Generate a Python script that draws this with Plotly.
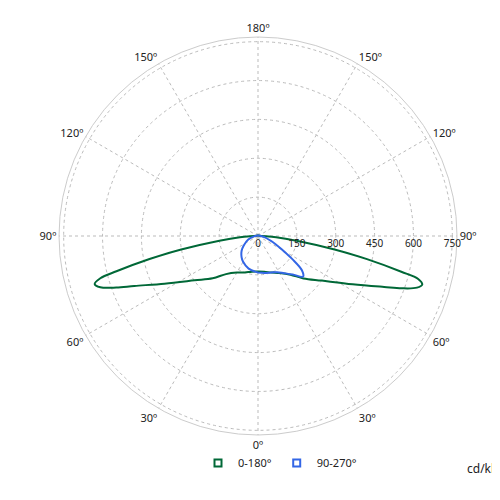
import plotly.graph_objects as go

# photometric planes, gamma in degrees, intensity in cd/klm
gamma_c0 = [0, 10, 20, 30, 40, 47, 55, 63, 68, 70, 72, 73.5, 75, 76, 78, 80, 83, 86, 90, 100, 120, 150, 180]
cd_c0 = [137, 140, 150, 165, 195, 240, 300, 410, 525, 590, 645, 661, 640, 570, 430, 300, 150, 70, 15, 6, 3, 2, 2]
gamma_c180 = [0, 10, 20, 30, 40, 47, 55, 63, 68, 70, 72, 73.6, 75, 76, 78, 80, 83, 86, 90, 100, 120, 150, 180]
cd_c180 = [137, 140, 150, 163, 192, 239, 298, 405, 515, 582, 640, 657, 630, 563, 428, 301, 150, 70, 15, 6, 3, 2, 2]

gamma_c90 = [0, 10, 20, 28, 35, 42, 48, 52, 56, 60, 65, 70, 80, 90, 120, 180]
cd_c90 = [141, 145, 150, 158, 175, 200, 234, 215, 160, 110, 75, 50, 25, 10, 4, 2]
gamma_c270 = [0, 16, 30, 38, 48, 56, 70, 85, 90, 120, 180]
cd_c270 = [141, 131, 115, 103, 85, 67, 40, 15, 8, 4, 2]

green = "#006837"
blue = "#3366e6"

fig = go.Figure()

# right half = gamma, left half = 360 - gamma
th_a = [360 - g for g in gamma_c180[::-1]] + gamma_c0
r_a = cd_c180[::-1] + cd_c0
th_b = [360 - g for g in gamma_c270[::-1]] + gamma_c90
r_b = cd_c270[::-1] + cd_c90

fig.add_trace(go.Scatterpolar(theta=th_a, r=r_a, mode="lines", line=dict(color=green, width=2, shape="spline"),
                              showlegend=False))
fig.add_trace(go.Scatterpolar(theta=th_b, r=r_b, mode="lines", line=dict(color=blue, width=2, shape="spline"),
                              showlegend=False))
# legend entries
for name, col in [("0-180°", green), ("90-270°", blue)]:
    fig.add_trace(go.Scatterpolar(theta=[None], r=[None], mode="markers", name=name,
                                  marker=dict(symbol="square-open", size=7, color=col, line=dict(width=2))))

ang_vals = list(range(0, 360, 30))
ang_text = ["0º", "30º", "60º", "90º", "120º", "150º", "180º", "150º", "120º", "90º", "60º", "30º"]
rad_vals = [0, 150, 300, 450, 600, 750]

fig.update_layout(
    width=500, height=500,
    margin=dict(l=0, r=0, t=0, b=0),
    paper_bgcolor="white",
    font=dict(family="Noto Sans", size=11, color="#222"),
    polar=dict(
        domain=dict(x=[0.102, 0.898], y=[0.146, 0.942]),
        bgcolor="white",
        angularaxis=dict(rotation=270, direction="counterclockwise", tickvals=ang_vals, ticktext=ang_text,
                         showline=True, linecolor="#ccc", linewidth=1,
                         gridcolor="#bbb", griddash="dot", ticks="", tickfont=dict(size=11, color="#222")),
        radialaxis=dict(range=[0, 768], angle=0, tickangle=0, tickvals=rad_vals, showline=False,
                        gridcolor="#bbb", griddash="dot", ticks="", tickfont=dict(size=10, color="#222")),
    ),
    legend=dict(orientation="h", x=0.38, y=0.09, xanchor="left", yanchor="middle", font=dict(size=11),
                itemwidth=30, tracegroupgap=0),
    annotations=[dict(text="cd/klm", x=0.955, y=0.08, xref="paper", yref="paper",
                      xanchor="center", yanchor="middle", showarrow=False, font=dict(size=12))],
)

fig.write_html("out.html")
